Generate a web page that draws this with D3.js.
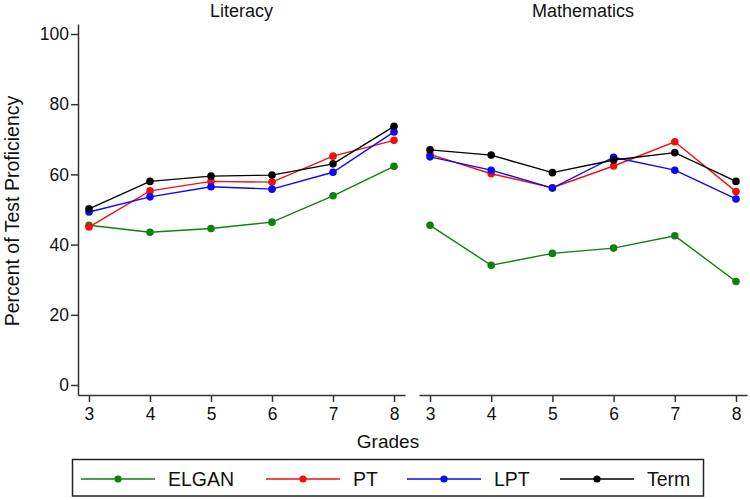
<!DOCTYPE html>
<html><head><meta charset="utf-8">
<script src="https://cdn.jsdelivr.net/npm/d3@7"></script>
<style>body{margin:0;background:#fff}svg{display:block}text{font-family:Arial,"Liberation Sans",sans-serif;fill:#111}</style>
</head><body><svg id="c" width="750" height="500"></svg>
<script>
const grades = [3,4,5,6,7,8];
const panels = ["Literacy","Mathematics"];
const seriesNames = ["ELGAN","PT","LPT","Term"];
const seriesColors = ["#0f800f","#f01010","#0a0af5","#000000"];
const yTicks = [0,20,40,60,80,100];
// Literacy values
const litELGAN = [45.5,43.5,44.6,46.4,53.9,62.3];
const litPT    = [45.0,55.3,58.0,57.8,65.2,69.7];
const litLPT   = [49.3,53.6,56.5,55.8,60.6,72.1];
const litTerm  = [50.2,58.0,59.5,59.8,63.0,73.7];
// Mathematics values
const matELGAN = [45.5,34.1,37.5,39.0,42.5,29.5];
const matPT    = [65.7,60.2,56.2,62.4,69.3,55.1];
const matLPT   = [65.0,61.2,56.1,64.9,61.2,53.0];
const matTerm  = [67.0,65.5,60.5,64.1,66.2,58.0];

const panelData = [
  [litELGAN,litPT,litLPT,litTerm],
  [matELGAN,matPT,matLPT,matTerm]
];

const svg = d3.select("#c");
const axisColor = "#333";
const y = d3.scaleLinear().domain([-2.85,102.85]).range([395,24]);
const xRanges = [[78,405],[419,747]];

panels.forEach((p,i)=>{
  const x = d3.scaleLinear().domain([2.82,8.18]).range(xRanges[i]);
  const g = svg.append("g");
  // x axis
  const xa = g.append("g").attr("transform","translate(0,395)")
    .call(d3.axisBottom(x).tickValues(grades).tickFormat(d3.format("d")).tickSize(7).tickSizeOuter(0).tickPadding(6));
  xa.selectAll("path,line").attr("stroke",axisColor).attr("stroke-width",1.5);
  xa.selectAll("text").attr("font-size","17.5px").attr("fill","#111").style("font-family","Arial, 'Liberation Sans', sans-serif");
  if(i===0){
    const ya = g.append("g").attr("transform","translate(78,0)")
      .call(d3.axisLeft(y).tickValues(yTicks).tickSize(7).tickSizeOuter(0).tickPadding(2));
    ya.selectAll("path,line").attr("stroke",axisColor).attr("stroke-width",1.5);
    ya.selectAll("text").attr("font-size","17.5px").attr("fill","#111").style("font-family","Arial, 'Liberation Sans', sans-serif");
  }
  g.append("text").attr("x",(xRanges[i][0]+xRanges[i][1])/2).attr("y",17)
    .attr("text-anchor","middle").attr("font-size","18px").text(p);
  const line = d3.line().x((d,j)=>x(grades[j])).y(d=>y(d));
  panelData[i].forEach((vals,s)=>{
    g.append("path").datum(vals).attr("d",line).attr("fill","none")
      .attr("stroke",seriesColors[s]).attr("stroke-width",1.4);
    g.selectAll(null).data(vals).enter().append("circle")
      .attr("cx",(d,j)=>x(grades[j])).attr("cy",d=>y(d)).attr("r",3.8)
      .attr("fill",seriesColors[s]);
  });
});

// axis titles
svg.append("text").attr("transform","translate(18.5,211) rotate(-90)")
  .attr("text-anchor","middle").attr("font-size","19.5px").text("Percent of Test Proficiency");
svg.append("text").attr("x",388).attr("y",448).attr("text-anchor","middle")
  .attr("font-size","19px").text("Grades");

// legend
svg.append("rect").attr("x",72.5).attr("y",459.5).attr("width",631).attr("height",36.5)
  .attr("fill","none").attr("stroke","#222").attr("stroke-width",1.5);
const legX = [81,266,407,560];
const lg = svg.append("g").selectAll("g").data(seriesNames).enter().append("g")
  .attr("transform",(d,k)=>`translate(${legX[k]},479)`);
lg.append("line").attr("x1",0).attr("x2",74).attr("stroke",(d,k)=>seriesColors[k]).attr("stroke-width",1.5);
lg.append("circle").attr("cx",37).attr("r",3.6).attr("fill",(d,k)=>seriesColors[k]);
lg.append("text").attr("x",87).attr("y",7).attr("font-size","19.5px").text(d=>d);
</script></body></html>
